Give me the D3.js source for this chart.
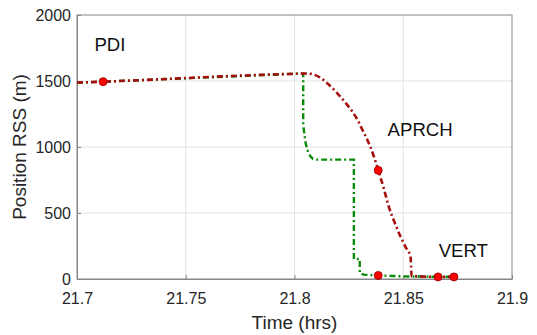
<!DOCTYPE html>
<html>
<head>
<meta charset="utf-8">
<script src="https://cdn.jsdelivr.net/npm/d3@7"></script>
<style>
  html, body { margin: 0; padding: 0; background: #fff; }
  svg { display: block; font-family: "Liberation Sans", Arial, sans-serif; }
</style>
</head>
<body>
<svg id="chart" width="537" height="335"></svg>
<script>
// Axis ticks
const xTicks = [21.7, 21.75, 21.8, 21.85, 21.9];
const yTicks = [0, 500, 1000, 1500, 2000];

// Position RSS along the flown trajectory (red) — time in hours, metres
const redTime = [21.7, 21.712, 21.8009, 21.806, 21.809, 21.8119, 21.8158, 21.8196, 21.8232, 21.8265, 21.8290, 21.8311, 21.8331, 21.8349, 21.8368, 21.8385, 21.8410, 21.8433, 21.8460, 21.8487, 21.8512, 21.8533, 21.8536, 21.8538, 21.8600, 21.866, 21.8733];
const redValue = [1488, 1495, 1555, 1557, 1548, 1525, 1472, 1409, 1340, 1270, 1205, 1134, 1068, 1000, 913, 823, 690, 550, 430, 323, 238, 171, 100, 22, 18, 16, 16];

// Position RSS for the alternate solution (green)
const greenTime = [21.7, 21.712, 21.8009, 21.8040, 21.8040, 21.8051, 21.8063, 21.8073, 21.8085, 21.8096, 21.8273, 21.8273, 21.8300, 21.8300, 21.8318, 21.8385, 21.8500, 21.8600, 21.8733];
const greenValue = [1488, 1495, 1555, 1555, 1169, 1030, 960, 929, 910, 904, 904, 151, 151, 45, 33, 27, 20, 18, 16];

// Highlighted samples
const markerTime = [21.712, 21.8385, 21.8385, 21.866, 21.8733];
const markerValue = [1495, 823, 27, 16, 16];

// Phase annotations
const phaseLabels = ["PDI", "APRCH", "VERT"];
const phaseTime = [21.7080, 21.8428, 21.8663];
const phaseValue = [1725, 1080, 170];

const svg = d3.select("#chart");
const margin = { left: 77, right: 25, top: 15, bottom: 56 };
const W = 537, H = 335;

const x = d3.scaleLinear().domain([21.7, 21.9]).range([margin.left, W - margin.right]);
const y = d3.scaleLinear().domain([0, 2000]).range([H - margin.bottom, margin.top]);

// Grid
const grid = svg.append("g");
grid.selectAll(".gx").data(xTicks.slice(1, -1)).enter().append("line")
  .attr("x1", d => x(d)).attr("x2", d => x(d))
  .attr("y1", y(0)).attr("y2", y(2000))
  .attr("stroke", "#e3e3e3").attr("stroke-width", 1);
grid.selectAll(".gy").data(yTicks.slice(1, -1)).enter().append("line")
  .attr("x1", x(21.7)).attr("x2", x(21.9))
  .attr("y1", d => y(d)).attr("y2", d => y(d))
  .attr("stroke", "#e3e3e3").attr("stroke-width", 1);

// Box
svg.append("rect")
  .attr("x", x(21.7)).attr("y", y(2000))
  .attr("width", x(21.9) - x(21.7)).attr("height", y(0) - y(2000))
  .attr("fill", "none").attr("stroke", "#868686").attr("stroke-width", 1);

// Axes
const xAxis = d3.axisBottom(x).tickValues(xTicks).tickFormat(d => d3.format("")(d)).tickSizeInner(-4).tickSizeOuter(0);
const yAxis = d3.axisLeft(y).tickValues(yTicks).tickFormat(d3.format("d")).tickSizeInner(-4).tickSizeOuter(0).tickPadding(6);

const gx = svg.append("g").attr("transform", `translate(0,${y(0)})`).call(xAxis);
const gy = svg.append("g").attr("transform", `translate(${x(21.7)},0)`).call(yAxis);
[gx, gy].forEach(g => {
  g.select(".domain").attr("stroke", "#868686");
  g.selectAll(".tick line").attr("stroke", "#868686");
  g.selectAll(".tick text").attr("fill", "#262626").style("font-size", "16px")
    .style("font-family", "'Liberation Sans', Arial, sans-serif");
});
gx.selectAll(".tick text").attr("y", 24.5).attr("dy", 0);
gy.selectAll(".tick text").attr("dy", "0.36em");

// Axis titles
svg.append("text").attr("x", (x(21.7) + x(21.9)) / 2).attr("y", 328.5)
  .attr("text-anchor", "middle").attr("fill", "#262626").style("font-size", "19px")
  .text("Time (hrs)");
svg.append("text")
  .attr("transform", `translate(26,${(y(0) + y(2000)) / 2}) rotate(-90)`)
  .attr("text-anchor", "middle").attr("fill", "#262626").style("font-size", "19px")
  .text("Position RSS (m)");

const line = d3.line().x(d => x(d[0])).y(d => y(d[1]));
const dash = "6,3,2,3";

svg.append("path")
  .datum(d3.zip(greenTime, greenValue))
  .attr("d", line)
  .attr("fill", "none").attr("stroke", "#0a8a0a").attr("stroke-width", 2.4)
  .attr("stroke-dasharray", dash);

svg.append("path")
  .datum(d3.zip(redTime, redValue))
  .attr("d", d3.line().curve(d3.curveMonotoneX).x(d => x(d[0])).y(d => y(d[1])))
  .attr("fill", "none").attr("stroke", "#a50f0f").attr("stroke-width", 2.6)
  .attr("stroke-dasharray", dash);

svg.selectAll(".mk").data(d3.zip(markerTime, markerValue)).enter().append("circle")
  .attr("cx", d => x(d[0])).attr("cy", d => y(d[1])).attr("r", 4)
  .attr("fill", "#ff0000").attr("stroke", "#8b0000").attr("stroke-width", 0.8);

svg.selectAll(".ph").data(d3.zip(phaseLabels, phaseTime, phaseValue)).enter().append("text")
  .attr("x", d => x(d[1])).attr("y", d => y(d[2]))
  .attr("fill", "#111").style("font-size", "18.6px")
  .text(d => d[0]);
</script>
</body>
</html>
